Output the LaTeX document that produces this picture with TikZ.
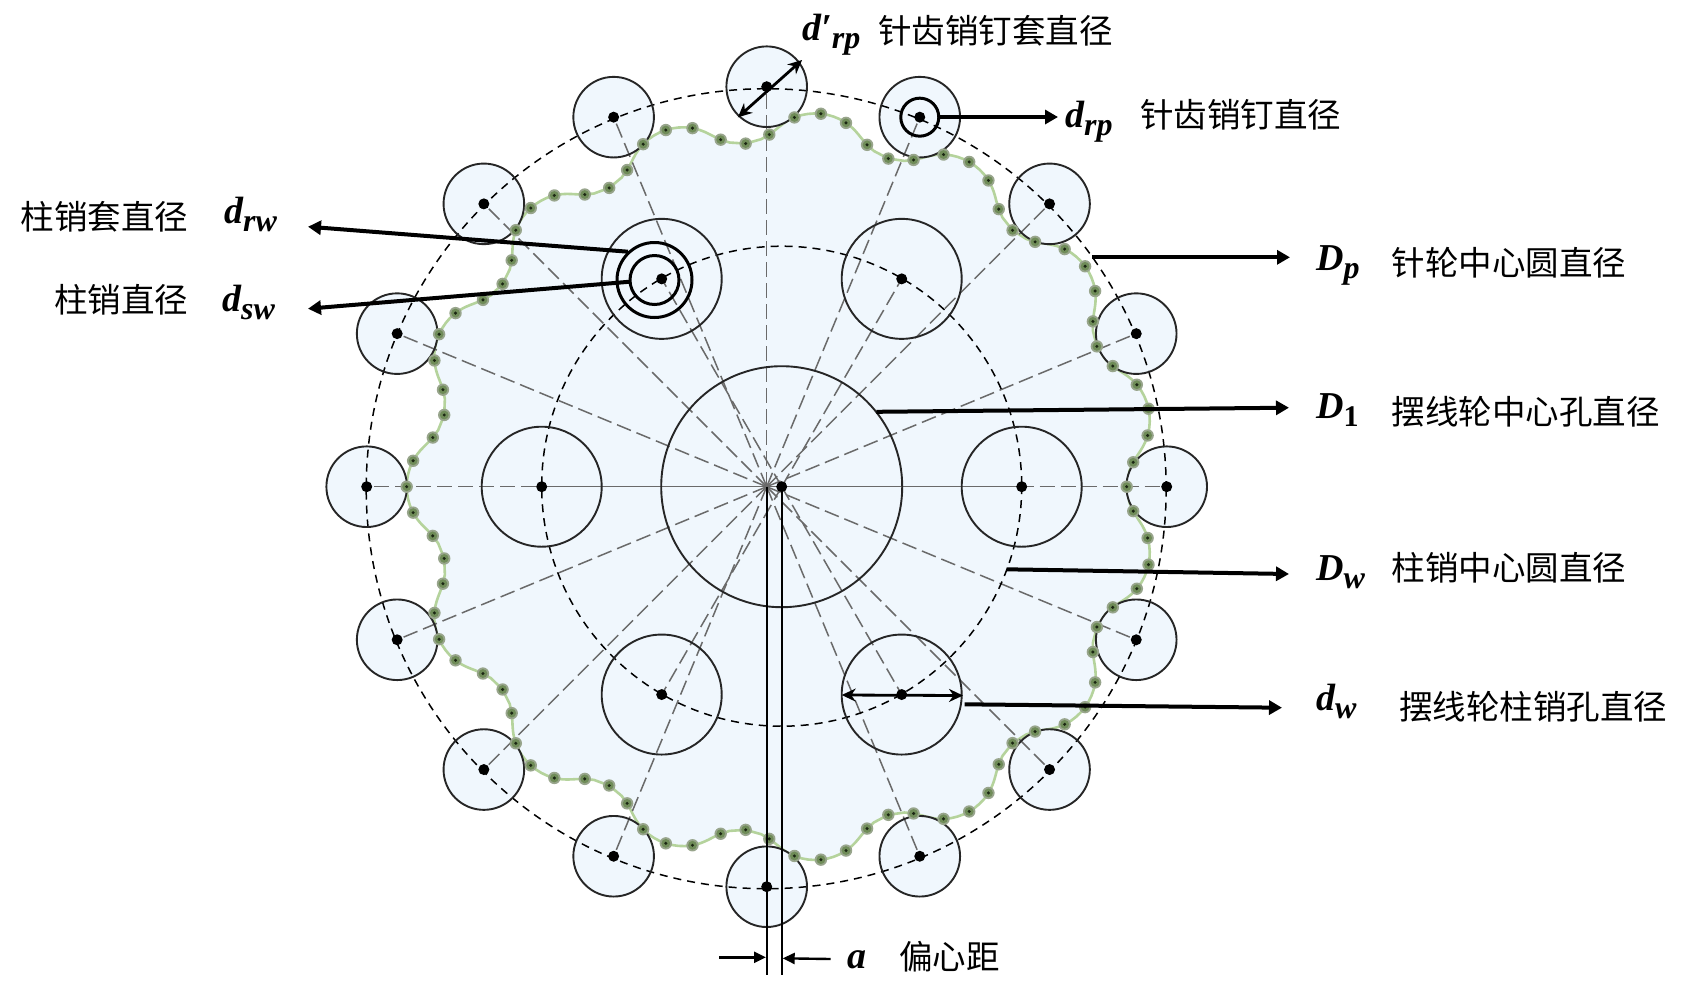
\documentclass[tikz,border=0pt]{standalone}
\usepackage{fontspec}
\newfontfamily\cjk{Noto Sans CJK SC}
\newfontfamily\symf{Liberation Serif}
\newcommand{\symbase}[1]{{\fontsize{38}{38}\selectfont\symf\bfseries\itshape #1}}
\newcommand{\symsub}[1]{\raisebox{-8pt}{\fontsize{32}{32}\selectfont\symf\bfseries\itshape #1}}
\newcommand{\symup}[1]{\raisebox{-8pt}{\fontsize{30}{30}\selectfont\symf\bfseries #1}}
\usetikzlibrary{arrows.meta,calc}
\definecolor{wheelblue}{HTML}{F0F7FD}
\definecolor{curvegreen}{HTML}{B5D39C}
\definecolor{dotgreen}{HTML}{6F8C58}
\definecolor{dotrim}{HTML}{98A58C}
\definecolor{dotcore}{HTML}{1A2612}
\definecolor{rayGray}{HTML}{6A6A6A}
\tikzset{
  hole/.style={draw=black!85,line width=1.9pt},
  ray/.style={draw=rayGray,line width=1.5pt,dash pattern=on 15pt off 6pt},
  bigdash/.style={draw=black,line width=1.5pt,dash pattern=on 8pt off 6pt},
  ring/.style={draw=black,line width=3pt},
  lead/.style={draw=black,line width=4pt,-{Triangle[length=13pt,width=14pt]}},
  thinarrow/.style={draw=black,line width=2.8pt,{Stealth[length=14pt,width=13pt]}-{Stealth[length=14pt,width=13pt]}},
  aarrow/.style={draw=black,line width=2.4pt,-{Triangle[length=12pt,width=11pt]}},
  zh/.style={inner sep=0pt,anchor=west,font=\fontsize{33.5}{33.5}\selectfont\cjk},
  sym/.style={inner sep=0pt,anchor=base west},
  declare function={
    Tx(\t)=-4*sin(\t)+2.4*sin(16*\t);
    Ty(\t)=4*cos(\t)-2.4*cos(16*\t);
    Tn(\t)=sqrt(Tx(\t)^2+Ty(\t)^2);
    Cx(\t)=100*(4*cos(\t)-0.15*cos(16*\t)-0.4*Ty(\t)/Tn(\t));
    Cy(\t)=100*(4*sin(\t)-0.15*sin(16*\t)+0.4*Tx(\t)/Tn(\t));
  }
}
\begin{document}
\begin{tikzpicture}[x=1pt,y=-1pt]
\useasboundingbox (0,0) rectangle (1686,997);
\fill[white] (0,0) rectangle (1686,997);
\coordinate (O) at (766.7,486.7);
\coordinate (W) at (781.7,486.7);
\coordinate (PC) at (766.2,488.7);
% cycloid disc
\begin{scope}[shift={(W)}]
\filldraw[fill=wheelblue,draw=curvegreen,line width=2.6pt]
  plot[domain=0:360,samples=361,variable=\t] ({Cx(\t)},{Cy(\t)}) -- cycle;
\end{scope}
% pin rings
\foreach \i in {0,...,15}{
  \coordinate (P\i) at ($(O)+({400*cos(22.5*\i)},{400*sin(22.5*\i)})$);
  \fill[wheelblue] (P\i) circle[radius=40.3];
}
% holes and centre bore
\foreach \i in {0,...,5}{
  \coordinate (H\i) at ($(W)+({240*cos(60*\i)},{240*sin(60*\i)})$);
}
% rays
\foreach \i in {0,...,15}{ \draw[ray] (O) -- (P\i); }
\foreach \i in {1,2,4,5}{ \draw[ray] (W) -- (H\i); }
\draw[ray] (W) -- (H0);
\draw[ray] (W) -- (H3);
% dashed pitch circles
\draw[bigdash] (PC) circle[radius=400];
\draw[bigdash] (W)++(0,-0.5) circle[radius=240];
% hole outlines
\draw[hole] (W) circle[radius=120.5];
\foreach \i in {0,...,5}{
  \draw[hole] (H\i) circle[radius=60];
  \fill[black] (H\i) circle[radius=5.5];
}
\foreach \i in {0,...,15}{
  \draw[hole] (P\i) circle[radius=40.3];
}
% dots on the profile: six per lobe, at equal polar steps
\begin{scope}[shift={(W)}]
\foreach \j in {0,...,14}{
  \foreach \off in {0,1.8,7.6,12,16.4,22.2}{
    \pgfmathsetmacro{\tk}{24*\j+\off}
    \fill[dotrim] ({Cx(\tk)},{Cy(\tk)}) circle[radius=6.2];
    \fill[dotgreen] ({Cx(\tk)},{Cy(\tk)}) circle[radius=4.4];
    \fill[dotcore] ({Cx(\tk)},{Cy(\tk)}) circle[radius=1.7];
  }
}
\end{scope}
\foreach \i in {0,...,15}{
  \fill[black] (P\i) circle[radius=5.5];
}
\fill[black] (W) circle[radius=5.5];
% rings
\coordinate (Rw) at (654.5,280);
\draw[ring] (Rw) circle[radius=37.5];
\draw[ring] (Rw) circle[radius=24.5];
\draw[ring] (P13) circle[radius=19];
% leaders
\coordinate (A1s) at (939,117);      \coordinate (A1e) at (1058,117);
\coordinate (A2s) at (628,251.7);    \coordinate (A2e) at (308,226.7);
\coordinate (A3s) at (630,281.7);    \coordinate (A3e) at (308,308.7);
\coordinate (A4s) at (1092,257.3);   \coordinate (A4e) at (1290,257.3);
\coordinate (A5s) at (876.4,411.8);  \coordinate (A5e) at (1289,407.7);
\coordinate (A6s) at (1006.6,569.3); \coordinate (A6e) at (1289,574);
\coordinate (A7s) at (964.6,704.3);  \coordinate (A7e) at (1282,707.7);
\foreach \j in {1,...,7}{ \draw[lead] (A\j s) -- (A\j e); }
% dimension arrows
\coordinate (Da) at (737.9,117.3);   \coordinate (Db) at (802.1,60);
\draw[thinarrow] (Da) -- (Db);
\coordinate (Dc) at (841.7,695);     \coordinate (Dd) at (963,695.5);
\draw[thinarrow] (Dc) -- (Dd);
% eccentricity
\coordinate (Oe) at (766.7,975);     \coordinate (We) at (781.7,975);
\draw[black,line width=2.4pt] (O) -- (Oe);
\draw[black,line width=2.4pt] (W) -- (We);
\coordinate (B1) at (719.3,957.3);   \coordinate (B1e) at (766,957.3);
\coordinate (B2) at (830.7,959);     \coordinate (B2e) at (782.7,958.3);
\draw[aarrow] (B1) -- (B1e);
\draw[aarrow] (B2) -- (B2e);
% labels
\node[sym] (s1) at (802,40)   {\symbase{d′}\symsub{rp}};
\node[zh]  (t1) at (878,31)   {针齿销钉套直径};
\node[sym] (s2) at (1065,127) {\symbase{d}\symsub{rp}};
\node[zh]  (t2) at (1140,115) {针齿销钉直径};
\node[zh]  (t3) at (20.7,217) {柱销套直径};
\node[sym] (s3) at (224,223)  {\symbase{d}\symsub{rw}};
\node[zh]  (t4) at (54,300)   {柱销直径};
\node[sym] (s4) at (222,311)  {\symbase{d}\symsub{sw}};
\node[sym] (s5) at (1316,270.7) {\symbase{D}\symsub{p}};
\node[zh]  (t5) at (1391.5,263) {针轮中心圆直径};
\node[sym] (s6) at (1316,418)  {\symbase{D}\symup{1}};
\node[zh]  (t6) at (1391.5,411.7) {摆线轮中心孔直径};
\node[sym] (s7) at (1316,580)  {\symbase{D}\symsub{w}};
\node[zh]  (t7) at (1391.5,568) {柱销中心圆直径};
\node[sym] (s8) at (1316,710)  {\symbase{d}\symsub{w}};
\node[zh]  (t8) at (1399,706.7) {摆线轮柱销孔直径};
\node[sym] (s9) at (847,968)   {\symbase{a}};
\node[zh]  (t9) at (899,956.7) {偏心距};
\end{tikzpicture}
\end{document}
